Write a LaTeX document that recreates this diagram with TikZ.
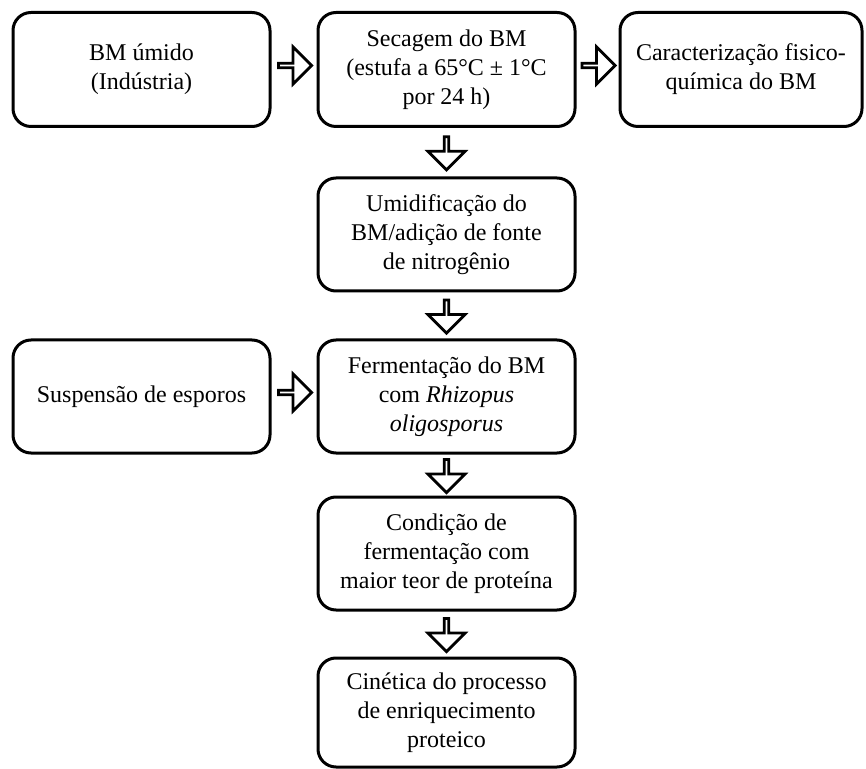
\documentclass[tikz,border=0pt]{standalone}
\usepackage{fontspec}
\setmainfont{Liberation Serif}
\usepackage{tikz}
\usetikzlibrary{shapes.arrows, calc}

\begin{document}
\begin{tikzpicture}[
    x=0.5pt, y=-0.5pt,
    stage/.style={rectangle, rounded corners=9pt, draw=black, fill=white,
                  line width=1.5pt, minimum width=128.5pt,
                  minimum height=57pt, align=center,
                  font=\fontsize{12}{14.5}\selectfont},
    flowarrow/.style={single arrow, draw=black, fill=white,
                      line width=1.4pt, inner sep=0pt,
                      minimum height=16.5pt, minimum width=18.5pt,
                      single arrow head extend=5.25pt,
                      single arrow tip angle=90},
    rightarrow/.style={flowarrow, yshift=2pt},
    downarrow/.style={flowarrow, rotate=-90}
  ]
    \useasboundingbox (0,0) rectangle (866,769);
    % Top row
    \node[stage] (umido) at (141.5, 69.5) {BM úmido\\(Indústria)};
    \node[stage] (secagem) at (446.5, 69.5)
      {Secagem do BM\\(estufa a 65°C ± 1°C\\por 24 h)};
    \node[stage, minimum width=121pt] (carac) at (741, 69.5)
      {Caracterização fisico-\\química do BM};
    % Main column
    \node[stage, minimum height=56.5pt] (umidif) at (446.5, 234.5)
      {Umidificação do\\BM/adição de fonte\\de nitrogênio};
    \node[stage, minimum height=56.5pt] (ferment) at (446.5, 396.5)
      {Fermentação do BM\\com \textit{Rhizopus}\\\textit{oligosporus}};
    \node[stage, minimum height=56.5pt] (esporos) at (141.5, 396.5)
      {Suspensão de esporos};
    \node[stage, minimum height=56.5pt] (condicao) at (446.5, 553.5)
      {Condição de\\fermentação com\\maior teor de proteína};
    \node[stage, minimum height=54.5pt] (cinetica) at (446.5, 712.5)
      {Cinética do processo\\de enriquecimento\\proteico};
    % Horizontal block arrows
    \node[rightarrow] (a1) at ($(umido.east)!0.5!(secagem.west)$) {};
    \node[rightarrow] (a2) at ($(secagem.east)!0.5!(carac.west)$) {};
    \node[rightarrow] (a3) at ($(esporos.east)!0.5!(ferment.west)$) {};
    % Vertical block arrows
    \node[downarrow] (d1) at ($(secagem.south)!0.5!(umidif.north)$) {};
    \node[downarrow] (d2) at ($(umidif.south)!0.5!(ferment.north)$) {};
    \node[downarrow] (d3) at ($(ferment.south)!0.5!(condicao.north)$) {};
    \node[downarrow] (d4) at ($(condicao.south)!0.5!(cinetica.north)$) {};
  \end{tikzpicture}
\end{document}
